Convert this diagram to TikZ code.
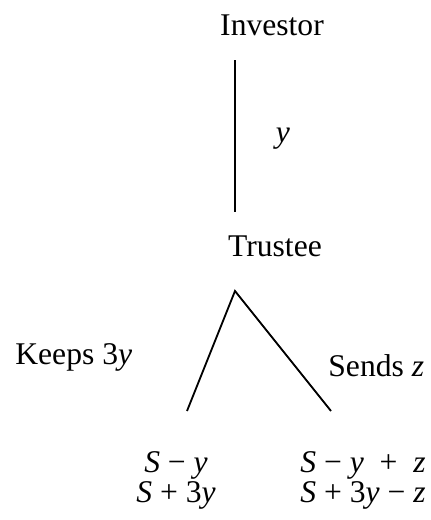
\documentclass[tikz,border=0pt]{standalone}
\usepackage{fontspec}
\setmainfont{Liberation Serif}
\newcommand{\vi}[1]{\textit{#1}}
\begin{document}
\begin{tikzpicture}[x=0.5pt,y=-0.5pt,
  lbl/.style={inner sep=0pt,font=\fontsize{15.8}{13.5}\selectfont},
  pay/.style={lbl,align=center,anchor=base},
  edge/.style={line width=0.9pt,line cap=butt}]
\useasboundingbox (0,0) rectangle (431,520);
\node[lbl,anchor=base] (inv) at (272,35) {Investor};
\coordinate (invb) at (235,60);
\coordinate (trt) at (235,212);
\node[lbl,anchor=base] (ylab) at (283,142) {\vi{y}};
\node[lbl,anchor=base] (tru) at (275,256) {Trustee};
\coordinate (apex) at (235,291);
\coordinate (lft) at (187,411);
\coordinate (rgt) at (331,411);
\draw[edge] (invb) -- (trt);
\draw[edge] (lft) -- (apex) -- (rgt);
\node[lbl,anchor=base west] (keep) at (15,364) {Keeps 3\vi{y}};
\node[lbl,anchor=base west] (send) at (328,376) {Sends \vi{z}};
\node[pay] (lpay) at (176,502) {\vi{S} − \vi{y}\\\vi{S} + 3\vi{y}};
\node[pay] (rpay) at (363,502) {\vi{S} − \vi{y} \ + \ \vi{z}\\\vi{S} + 3\vi{y} − \vi{z}};
\end{tikzpicture}
\end{document}
